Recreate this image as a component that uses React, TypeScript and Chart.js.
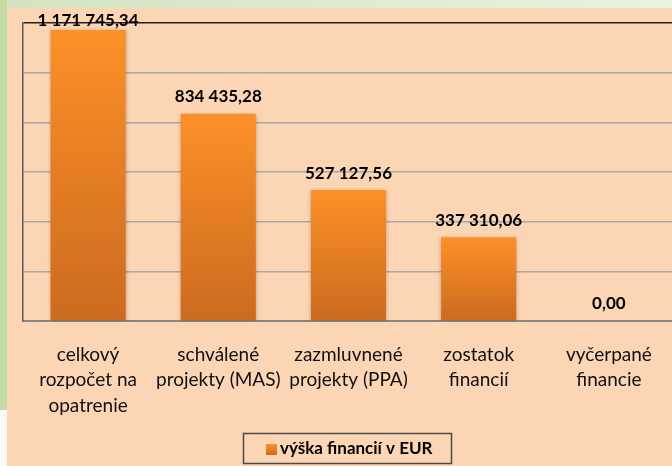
import React, { useEffect, useRef } from "react";
import { Chart, registerables } from "chart.js";

Chart.register(...registerables);

const categories: string[][] = [
  ["celkový", "rozpočet na", "opatrenie"],
  ["schválené", "projekty (MAS)"],
  ["zazmluvnené", "projekty (PPA)"],
  ["zostatok", "financií"],
  ["vyčerpané", "financie"],
];
const values: number[] = [1171745.34, 834435.28, 527127.56, 337310.06, 0];
const seriesName = "výška financií v EUR";
const yMax = 1200000;
const yStep = 200000;

const FONT = "Lato, 'Noto Sans', sans-serif";

function fmt(v: number): string {
  const [i, d] = v.toFixed(2).split(".");
  return i.replace(/\B(?=(\d{3})+(?!\d))/g, " ") + "," + d;
}

function barGradient(ctx: CanvasRenderingContext2D, top: number, bottom: number) {
  const g = ctx.createLinearGradient(0, top, 0, bottom);
  g.addColorStop(0, "#fc9128");
  g.addColorStop(1, "#cc6a1f");
  return g;
}

const shadowPlugin = {
  id: "barShadow",
  beforeDatasetsDraw(chart: any) {
    const ctx = chart.ctx;
    ctx.save();
    ctx.shadowColor = "rgba(0,0,0,0.28)";
    ctx.shadowBlur = 4;
    ctx.shadowOffsetX = 0;
    ctx.shadowOffsetY = 1;
  },
  afterDatasetsDraw(chart: any) {
    chart.ctx.restore();
  },
};

const labelPlugin = {
  id: "valueLabels",
  afterDatasetsDraw(chart: any) {
    const ctx = chart.ctx;
    const meta = chart.getDatasetMeta(0);
    ctx.save();
    ctx.font = `bold 17px ${FONT}`;
    ctx.fillStyle = "#000";
    ctx.textAlign = "center";
    ctx.textBaseline = "middle";
    meta.data.forEach((el: any, i: number) => {
      const y = Math.max(el.y - 17, 21);
      ctx.fillText(fmt(values[i]), el.x, y);
    });
    ctx.restore();
  },
};

const legendPlugin = {
  id: "boxLegend",
  afterDraw(chart: any) {
    const ctx = chart.ctx;
    ctx.save();
    ctx.strokeStyle = "#4a4a4a";
    ctx.lineWidth = 1.5;
    ctx.strokeRect(243.5, 433.5, 208, 30);
    ctx.fillStyle = barGradient(ctx, 444, 455);
    ctx.fillRect(266, 444, 11, 11);
    ctx.font = `bold 17px ${FONT}`;
    ctx.fillStyle = "#000";
    ctx.textAlign = "left";
    ctx.textBaseline = "middle";
    ctx.fillText(seriesName, 280, 449);
    ctx.restore();
  },
};

export default function App() {
  const ref = useRef<HTMLCanvasElement>(null);
  useEffect(() => {
    if (!ref.current) return;
    const chart = new Chart(ref.current, {
      type: "bar",
      data: {
        labels: categories,
        datasets: [
          {
            label: seriesName,
            data: values,
            backgroundColor: (c: any) => {
              const ch = c.chart;
              const ys = ch.scales && ch.scales.y;
              if (!ys || !ch.chartArea || c.parsed == null) return "#f08a27";
              const top = ys.getPixelForValue(c.parsed.y);
              const bottom = ys.getPixelForValue(0);
              if (bottom - top < 1) return "#f08a27";
              return barGradient(ch.ctx, top, bottom);
            },
            borderWidth: 0,
            categoryPercentage: 1,
            barPercentage: 0.577,
          },
        ],
      },
      options: {
        responsive: false,
        animation: false,
        devicePixelRatio: 1,
        layout: { padding: { left: 23, right: 16, top: 23, bottom: 0 } },
        plugins: { legend: { display: false }, tooltip: { enabled: false } },
        scales: {
          x: {
            grid: { display: true, drawOnChartArea: false, drawTicks: false },
            border: { display: true, color: "#868686", width: 2 },
            ticks: {
              font: { family: FONT, size: 19, lineHeight: 1.34 },
              color: "#111",
              padding: 21,
              maxRotation: 0,
              autoSkip: false,
            },
            afterFit: (s: any) => {
              s.height = 145;
            },
          },
          y: {
            min: 0,
            max: yMax,
            ticks: { display: false, stepSize: yStep },
            grid: {
              drawTicks: false,
              color: (c: any) => (c.tick && c.tick.value === yMax ? "#222" : "#a8a8a8"),
              lineWidth: 1.5,
            },
            border: { display: true, color: "#5c5c5c", width: 1.5 },
          },
        },
      },
      plugins: [shadowPlugin, labelPlugin, legendPlugin],
    } as any);
    return () => chart.destroy();
  }, []);

  return (
    <div
      style={{
        position: "fixed",
        left: 0,
        top: 0,
        width: 672,
        height: 466,
        overflow: "hidden",
        background: "#fbfbf6",
      }}
    >
      <div
        style={{
          position: "absolute",
          left: 0,
          top: 0,
          width: 672,
          height: 8,
          background: "linear-gradient(to right, #d3e3bf, #eaf2e1)",
        }}
      />
      <div
        style={{
          position: "absolute",
          left: 0,
          top: 0,
          width: 7,
          height: 410,
          background: "#c4daa7",
        }}
      />
      <div
        style={{
          position: "absolute",
          left: 7,
          top: 8,
          width: 665,
          height: 458,
          background: "#fcd5b5",
        }}
      />
      <canvas
        ref={ref}
        width={690}
        height={466}
        style={{ position: "absolute", left: 0, top: 0, width: 690, height: 466 }}
      />
    </div>
  );
}
